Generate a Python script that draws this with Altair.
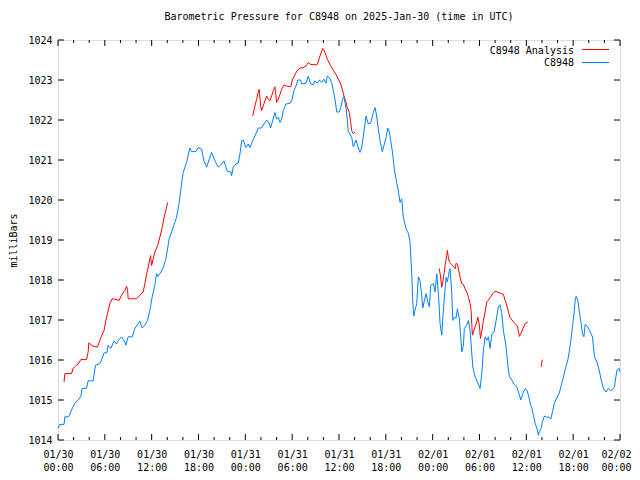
import altair as alt
import pandas as pd

# ---- data (hours since 2025-01-30 00:00 UTC, pressure in millibars) ----
blue_hours = [0.00, 0.23, 0.78, 0.87, 1.38, 1.73, 2.15, 2.58, 2.92, 3.09, 3.65, 3.86, 4.50, 4.81, 5.36, 5.58,
              5.91, 6.26, 6.42, 6.77, 7.19, 7.50, 7.71, 8.14, 8.56, 8.69, 8.99, 9.50, 9.85, 10.27, 10.49, 10.78,
              11.13, 11.47, 11.77, 12.06, 12.41, 12.63, 12.83, 13.18, 13.47, 13.78, 14.04, 14.24, 14.76, 15.19,
              15.53, 15.83, 16.04, 16.47, 16.90, 17.12, 17.67, 17.96, 18.40, 18.69, 19.04, 19.37, 19.68, 20.10,
              20.53, 20.96, 21.26, 21.68, 22.12, 22.24, 22.45, 22.79, 23.09, 23.31, 23.53, 23.73, 24.08, 24.37,
              24.59, 24.94, 25.23, 25.65, 26.09, 26.51, 26.73, 27.03, 27.24, 27.50, 27.79, 28.01, 28.22, 28.44,
              28.65, 28.86, 29.21, 29.72, 29.94, 30.23, 30.58, 30.71, 31.09, 31.22, 31.77, 32.06, 32.37, 32.71,
              32.92, 33.22, 33.47, 33.78, 34.08, 34.33, 34.50, 34.76, 35.06, 35.27, 35.49, 35.71, 36.04, 36.22,
              36.47, 36.64, 36.90, 37.07, 37.19, 37.41, 37.63, 37.83, 38.18, 38.47, 38.69, 38.91, 39.21, 39.46,
              39.76, 40.06, 40.40, 40.62, 40.83, 41.04, 41.26, 41.55, 41.81, 42.03, 42.24, 42.45, 42.63, 42.88,
              43.05, 43.31, 43.60, 43.82, 44.04, 44.24, 44.59, 44.88, 45.10, 45.32, 45.45, 45.58, 45.74, 45.96,
              46.17, 46.38, 46.60, 46.73, 46.90, 47.15, 47.32, 47.58, 47.76, 48.09, 48.31, 48.53, 48.73, 48.95,
              49.17, 49.29, 49.50, 49.72, 49.88, 50.14, 50.23, 50.45, 50.58, 50.78, 51.00, 51.17, 51.42, 51.60,
              51.73, 51.94, 52.06, 52.37, 52.58, 52.79, 52.92, 53.14, 53.44, 53.73, 54.08, 54.29, 54.50, 54.72,
              54.94, 55.14, 55.36, 55.58, 55.87, 56.13, 56.42, 56.64, 56.86, 57.06, 57.41, 57.63, 57.83, 58.14,
              58.44, 58.78, 59.12, 59.29, 59.55, 59.85, 60.06, 60.27, 60.49, 60.71, 60.91, 61.13, 61.35, 61.55,
              61.68, 61.90, 62.06, 62.32, 62.63, 62.92, 63.14, 63.35, 63.60, 63.91, 64.21, 64.47, 64.76, 65.06,
              65.32, 65.49, 65.74, 65.91, 66.13, 66.26, 66.38, 66.60, 66.77, 67.03, 67.19, 67.37, 67.54, 67.88,
              68.18, 68.47, 68.73, 69.04, 69.33, 69.59, 69.88, 70.19, 70.53, 70.87, 71.29, 71.47, 71.64, 71.90,
              72.00]
blue_mbar = [1014.29, 1014.39, 1014.39, 1014.58, 1014.58, 1014.75, 1014.92, 1015.00, 1015.08, 1015.29, 1015.29,
             1015.48, 1015.48, 1015.87, 1015.91, 1016.00, 1016.18, 1016.18, 1016.37, 1016.29, 1016.48, 1016.40,
             1016.48, 1016.58, 1016.45, 1016.37, 1016.58, 1016.58, 1016.79, 1016.91, 1016.97, 1016.80, 1016.87,
             1016.99, 1017.24, 1017.57, 1017.87, 1018.16, 1018.09, 1018.20, 1018.31, 1018.49, 1018.78, 1019.03,
             1019.32, 1019.57, 1019.94, 1020.40, 1020.69, 1020.94, 1021.30, 1021.21, 1021.21, 1021.31, 1021.27,
             1020.98, 1020.82, 1021.02, 1021.19, 1020.98, 1020.82, 1020.90, 1020.98, 1020.72, 1020.70, 1020.61,
             1020.82, 1020.90, 1020.92, 1021.15, 1021.48, 1021.50, 1021.31, 1021.40, 1021.31, 1021.48, 1021.60,
             1021.80, 1021.80, 1021.94, 1022.00, 1021.92, 1021.80, 1021.98, 1022.19, 1022.02, 1022.07, 1021.94,
             1022.02, 1022.23, 1022.40, 1022.42, 1022.48, 1022.73, 1022.90, 1023.00, 1023.00, 1022.90, 1022.92,
             1023.10, 1022.90, 1022.88, 1022.98, 1022.92, 1023.00, 1022.94, 1023.02, 1022.92, 1023.10, 1023.06,
             1022.94, 1022.73, 1022.52, 1022.20, 1022.20, 1022.31, 1022.52, 1022.58, 1022.30, 1022.00, 1021.70,
             1021.65, 1021.56, 1021.33, 1021.50, 1021.31, 1021.19, 1021.30, 1021.73, 1022.10, 1021.90, 1021.92,
             1022.19, 1022.31, 1022.10, 1021.77, 1021.48, 1021.21, 1021.40, 1021.56, 1021.80, 1021.70, 1021.48,
             1021.15, 1020.82, 1020.52, 1020.23, 1019.94, 1020.03, 1019.57, 1019.28, 1019.17, 1018.95, 1018.16,
             1017.45, 1017.10, 1017.24, 1017.41, 1018.08, 1017.98, 1017.62, 1017.30, 1017.45, 1017.66, 1017.50,
             1017.33, 1017.87, 1017.91, 1017.70, 1018.16, 1017.66, 1016.91, 1016.62, 1017.03, 1017.57, 1018.07,
             1017.95, 1018.24, 1018.28, 1017.66, 1016.99, 1017.07, 1017.05, 1017.28, 1017.03, 1016.58, 1016.20,
             1016.37, 1016.79, 1016.87, 1016.99, 1016.74, 1016.42, 1015.83, 1015.58, 1015.45, 1015.29, 1015.66,
             1016.24, 1016.58, 1016.49, 1016.58, 1016.29, 1016.66, 1016.70, 1016.99, 1017.33, 1017.38, 1017.16,
             1016.74, 1016.33, 1015.87, 1015.58, 1015.50, 1015.39, 1015.33, 1015.12, 1015.00, 1015.16, 1015.29,
             1015.25, 1015.12, 1014.92, 1014.79, 1014.62, 1014.42, 1014.29, 1014.12, 1014.21, 1014.29, 1014.46,
             1014.60, 1014.57, 1014.57, 1014.52, 1014.71, 1014.93, 1015.06, 1015.16, 1015.37, 1015.58, 1015.83,
             1016.00, 1016.20, 1016.54, 1016.83, 1017.20, 1017.49, 1017.59, 1017.49, 1017.24, 1016.91, 1016.66,
             1016.58, 1016.89, 1016.83, 1016.70, 1016.58, 1016.08, 1015.95, 1015.75, 1015.50, 1015.29, 1015.20,
             1015.29, 1015.23, 1015.33, 1015.58, 1015.76, 1015.79, 1015.70]

red_hours = [0.78, 0.87, 1.73, 1.94, 2.24, 2.58, 2.92, 3.65, 3.86, 3.95, 4.29, 4.72, 5.06, 5.36, 5.65, 5.91,
             6.09, 6.35, 6.64, 6.94, 7.28, 7.83, 8.14, 8.56, 8.78, 8.91, 8.99, 10.06, 10.49, 10.91, 11.13, 11.35,
             11.55, 11.77, 11.86, 11.99, 12.19, 12.41, 12.76, 13.05, 13.35, 13.60, 13.82, 14.04,
             24.94, 25.01, 25.23, 25.45, 25.65, 25.78, 25.96, 26.09, 26.29, 26.51, 26.73, 26.94, 27.15, 27.37,
             27.58, 27.79, 28.01, 28.22, 28.44, 28.65, 28.95, 29.29, 29.81, 30.06, 30.36, 30.65, 30.91, 31.42,
             31.77, 32.06, 32.37, 32.92, 33.22, 33.56, 33.91, 34.21, 34.50, 34.85, 35.27, 35.62, 35.91, 36.22,
             36.47, 36.64, 36.90, 37.07, 37.32, 37.50, 37.63, 37.83, 38.05,
             48.86, 49.04, 49.17, 49.29, 49.46, 49.59, 49.81, 49.88, 50.01, 50.14, 50.45, 50.74, 50.87, 51.00,
             51.17, 51.29, 51.51, 51.73, 51.94, 52.15, 52.37, 52.58, 52.79, 52.92, 53.01, 53.09, 53.22, 53.44,
             53.65, 53.78, 53.99, 54.12, 54.29, 54.50, 54.72, 54.94, 55.14, 55.36, 55.71, 56.00, 56.29, 56.64,
             57.06, 57.28, 57.50, 57.71, 57.92, 58.27, 58.56, 58.86, 59.12, 59.29, 59.55, 59.85, 60.19,
             61.90, 62.05]
red_mbar = [1015.45, 1015.66, 1015.66, 1015.79, 1015.85, 1015.90, 1016.01, 1016.01, 1016.20, 1016.43, 1016.37,
            1016.33, 1016.33, 1016.49, 1016.64, 1016.74, 1016.95, 1017.17, 1017.41, 1017.53, 1017.52, 1017.49,
            1017.62, 1017.74, 1017.84, 1017.76, 1017.53, 1017.53, 1017.62, 1017.70, 1017.91, 1018.14, 1018.32,
            1018.53, 1018.61, 1018.36, 1018.53, 1018.70, 1018.86, 1019.07, 1019.32, 1019.57, 1019.74, 1019.94,
            1022.10, 1022.16, 1022.35, 1022.52, 1022.69, 1022.77, 1022.35, 1022.24, 1022.35, 1022.48, 1022.60,
            1022.52, 1022.48, 1022.60, 1022.73, 1022.83, 1022.44, 1022.52, 1022.64, 1022.77, 1022.87, 1022.85,
            1022.83, 1023.02, 1023.14, 1023.23, 1023.29, 1023.31, 1023.35, 1023.43, 1023.39, 1023.38, 1023.39,
            1023.60, 1023.79, 1023.69, 1023.52, 1023.39, 1023.24, 1023.14, 1023.02, 1022.90, 1022.73, 1022.60,
            1022.44, 1022.31, 1022.19, 1021.94, 1021.73, 1021.66, 1021.69,
            1018.28, 1018.03, 1017.82, 1017.95, 1018.16, 1018.36, 1018.61, 1018.74, 1018.57, 1018.45, 1018.39,
            1018.32, 1018.28, 1018.42, 1018.39, 1018.28, 1018.07, 1017.91, 1017.89, 1017.78, 1017.70, 1017.57,
            1017.41, 1017.24, 1016.91, 1016.62, 1016.70, 1016.83, 1016.95, 1017.07, 1016.87, 1016.54, 1016.70,
            1016.99, 1017.20, 1017.45, 1017.49, 1017.56, 1017.66, 1017.72, 1017.70, 1017.67, 1017.64, 1017.49,
            1017.37, 1017.20, 1017.06, 1016.97, 1016.91, 1016.84, 1016.59, 1016.66, 1016.78, 1016.91, 1016.95,
            1015.83, 1016.01]
red_segment = [0] * 44 + [1] * 51 + [2] * 55 + [3] * 2

series_names = ["C8948 Analysis", "C8948"]
series_colors = ["#ff0000", "#0080ff"]
date_labels = ["01/30", "01/31", "02/01", "02/02"]
major_hours = list(range(0, 73, 6))
minor_hours = [h for h in range(0, 73, 2) if h % 6]
y_ticks = list(range(1014, 1025))

title_text = "Barometric Pressure for C8948 on 2025-Jan-30 (time in UTC)"
FONT = "DejaVu Sans Mono"
W, H = 562, 400

df_red = pd.DataFrame({"hour": red_hours, "mbar": red_mbar, "series": series_names[0], "seg": red_segment})
df_blue = pd.DataFrame({"hour": blue_hours, "mbar": blue_mbar, "series": series_names[1], "seg": 10})
df_lines = pd.concat([df_red, df_blue], ignore_index=True)
df_lines["order"] = range(len(df_lines))

xscale = alt.Scale(domain=[0, 72], nice=False, zero=False)
yscale = alt.Scale(domain=[1014, 1024], nice=False, zero=False)

label_expr = ("[" + str(date_labels) + "[floor(datum.value / 24)], "
              "(datum.value % 24 < 10 ? '0' : '') + (datum.value % 24) + ':00']")

xaxis = alt.Axis(
    values=major_hours, labelExpr=label_expr, ticks=False, domain=False, grid=False,
    labelFont=FONT, labelFontSize=10, labelColor="black", labelPadding=9,
    labelBaseline="top", labelLineHeight=13, labelFlush=False, labelOverlap=False, title=None,
    labelOffset={"condition": {"test": "datum.value == 72", "value": -4}, "value": 0})
yaxis = alt.Axis(
    values=y_ticks, format="d", ticks=False, domain=False, grid=False,
    labelFont=FONT, labelFontSize=10, labelColor="black", labelPadding=6,
    title="milliBars", titleFont=FONT, titleFontSize=10, titleFontWeight="normal",
    titleColor="black", titleX=-45, titleY=200, titleAngle=-90,
    titleAlign="center", titleBaseline="middle")

lines = alt.Chart(df_lines).mark_line(strokeWidth=1, interpolate="linear").encode(
    x=alt.X("hour:Q", scale=xscale, axis=xaxis),
    y=alt.Y("mbar:Q", scale=yscale, axis=yaxis),
    color=alt.Color("series:N", scale=alt.Scale(domain=series_names, range=series_colors), legend=None),
    detail="seg:N",
    order="order:Q",
)

def ticks_x(vals, y0, y1):
    return alt.Chart(pd.DataFrame({"hour": vals})).mark_rule(color="black", strokeWidth=1).encode(
        x=alt.X("hour:Q", scale=xscale, axis=xaxis), y=alt.value(y0), y2=alt.value(y1))

def ticks_y(vals, x0, x1):
    return alt.Chart(pd.DataFrame({"mbar": vals})).mark_rule(color="black", strokeWidth=1).encode(
        y=alt.Y("mbar:Q", scale=yscale, axis=yaxis), x=alt.value(x0), x2=alt.value(x1))

tick_layers = [
    ticks_x(major_hours, H, H - 6), ticks_x(major_hours, 0, 6),
    ticks_x(minor_hours, H, H - 3), ticks_x(minor_hours, 0, 3),
    ticks_y(y_ticks, 0, 6), ticks_y(y_ticks, W, W - 6),
]

legend_layers = []
legend_y_text = [10.5, 23]
legend_y_line = [9.5, 22.5]
for name, col, yt, yl in zip(series_names, series_colors, legend_y_text, legend_y_line):
    legend_layers.append(
        alt.Chart(pd.DataFrame({"label": [name]})).mark_text(
            align="right", baseline="middle", font=FONT, fontSize=10, color="black").encode(
            text="label:N", x=alt.value(516), y=alt.value(yt)))
    legend_layers.append(
        alt.Chart(pd.DataFrame({"label": [name]})).mark_rule(color=col, strokeWidth=1).encode(
            x=alt.value(524), x2=alt.value(551), y=alt.value(yl)))

chart = alt.layer(lines, *tick_layers, *legend_layers).properties(
    width=W, height=H,
    title=alt.TitleParams(title_text, font=FONT, fontSize=10, fontWeight="normal",
                          color="black", anchor="middle", offset=13),
    autosize="none",
    padding={"left": 50, "top": 32, "right": 12, "bottom": 40},
).configure_view(stroke="black", strokeWidth=1).configure(background="white")

chart.save("out.html", embed_options={"renderer": "svg", "actions": False})
